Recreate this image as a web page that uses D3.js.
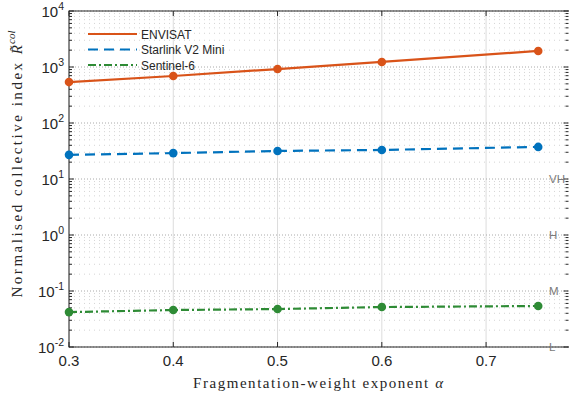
<!DOCTYPE html>
<html>
<head>
<meta charset="utf-8">
<script src="https://cdn.jsdelivr.net/npm/d3@7"></script>
<style>
body{margin:0;background:#fff;}
svg{display:block;}
</style>
</head>
<body>
<div id="chart"></div>
<script>
// データ
var alphas = [0.3, 0.4, 0.5, 0.6, 0.75];
var envisat = [538, 690, 920, 1230, 1935];
var starlink = [27, 29, 31.7, 33, 37.4];
var sentinel = [0.042, 0.0457, 0.0476, 0.0517, 0.054];
var seriesNames = ["ENVISAT", "Starlink V2 Mini", "Sentinel-6"];
var xTicks = [0.3, 0.4, 0.5, 0.6, 0.7];
var yExps = [-2, -1, 0, 1, 2, 3, 4];
var riskLabels = ["L", "M", "H", "VH"];
var riskLevels = [0.01, 0.1, 1, 10];

var W = 569, H = 396;
var m = {l: 69, r: -0.5, t: 11, b: 49};
var sans = "'Liberation Sans', Arial, sans-serif";
var serif = "'Liberation Serif', 'DejaVu Serif', serif";
var ink = "#262626";

var svg = d3.select("#chart").append("svg").attr("width", W).attr("height", H);

var x = d3.scaleLinear().domain([0.3, 0.78]).range([m.l, W - m.r]);
var y = d3.scaleLog().domain([0.01, 10000]).range([H - m.b, m.t]);

var g = svg.append("g");

// minor grid (log)
var minors = [];
for (var e = -2; e < 4; e++) for (var k = 2; k < 10; k++) minors.push(k * Math.pow(10, e));
g.selectAll(".ming").data(minors).enter().append("line")
  .attr("x1", m.l).attr("x2", W - m.r)
  .attr("y1", function(d){return y(d)}).attr("y2", function(d){return y(d)})
  .style("stroke", "#d4d4d4").style("stroke-width", 1).style("stroke-dasharray", "1,4");

// major grid
g.selectAll(".vg").data(xTicks).enter().append("line")
  .attr("x1", function(d){return x(d)}).attr("x2", function(d){return x(d)})
  .attr("y1", m.t).attr("y2", H - m.b)
  .style("stroke", "#dcdcdc").style("stroke-width", 1);
g.selectAll(".hg").data(yExps).enter().append("line")
  .attr("x1", m.l).attr("x2", W - m.r)
  .attr("y1", function(d){return y(Math.pow(10, d))}).attr("y2", function(d){return y(Math.pow(10, d))})
  .style("stroke", "#aaaaaa").style("stroke-width", 1).style("stroke-dasharray", "1,2");

// 軸
var ax = svg.append("g");
// box
ax.append("rect").attr("x", m.l).attr("y", m.t).attr("width", W - m.r - m.l).attr("height", H - m.b - m.t)
  .style("fill", "none").style("stroke", ink).style("stroke-width", 1);

// y ticks inside, left and right
[m.l, W - 0.5].forEach(function(x0, side){
  var dir = side == 0 ? 1 : -1;
  ax.selectAll(null).data(yExps).enter().append("line")
    .attr("x1", x0).attr("x2", x0 + dir * 5)
    .attr("y1", function(d){return y(Math.pow(10, d))}).attr("y2", function(d){return y(Math.pow(10, d))})
    .style("stroke", ink);
  ax.selectAll(null).data(minors).enter().append("line")
    .attr("x1", x0).attr("x2", x0 + dir * 3)
    .attr("y1", function(d){return y(d)}).attr("y2", function(d){return y(d)})
    .style("stroke", ink);
});
// x ticks inside, bottom and top
ax.selectAll(null).data(xTicks).enter().append("line")
  .attr("x1", function(d){return x(d)}).attr("x2", function(d){return x(d)})
  .attr("y1", H - m.b).attr("y2", H - m.b - 5).style("stroke", ink);
ax.selectAll(null).data(xTicks).enter().append("line")
  .attr("x1", function(d){return x(d)}).attr("x2", function(d){return x(d)})
  .attr("y1", m.t).attr("y2", m.t + 5).style("stroke", ink);

// tick labels
ax.selectAll(null).data(xTicks).enter().append("text")
  .attr("x", function(d){return x(d)}).attr("y", 366)
  .attr("text-anchor", "middle")
  .style("font-family", sans).style("font-size", "15px").style("fill", ink)
  .text(function(d){return d.toFixed(1)});

var yl = ax.selectAll(null).data(yExps).enter().append("text")
  .attr("x", 64).attr("y", function(d){return y(Math.pow(10, d)) + 6})
  .attr("text-anchor", "end")
  .style("font-family", sans).style("font-size", "15px").style("fill", ink);
yl.append("tspan").text("10");
yl.append("tspan").attr("dy", -7).style("font-size", "10.5px").text(function(d){return d});

// risk labels on the right
ax.selectAll(null).data(riskLevels).enter().append("text")
  .attr("x", 549).attr("y", function(d){return y(d) + 3.5})
  .style("font-family", sans).style("font-size", "11.5px").style("fill", "#7a7a7a")
  .text(function(d, i){return riskLabels[i]});

// axis labels (letter spacing of the main words fitted to the target width)
function fit(t, main, target){
  var w = t.node().getComputedTextLength();
  var n = main.text().length;
  main.style("letter-spacing", ((target - w) / n) + "px");
}
var xlab = svg.append("text").attr("x", 318).attr("y", 388).attr("text-anchor", "middle")
  .style("font-family", serif).style("font-size", "15px").style("fill", ink);
var xmain = xlab.append("tspan").text("Fragmentation-weight exponent ");
xlab.append("tspan").style("font-style", "italic").text("α");
fit(xlab, xmain, 250);

var ylab = svg.append("text").attr("transform", "translate(22,164) rotate(-90)").attr("text-anchor", "middle")
  .style("font-family", serif).style("font-size", "15px").style("fill", ink);
var ymain = ylab.append("tspan").text("Normalised collective index ");
ylab.append("tspan").style("font-style", "italic").text("R\u0303");
ylab.append("tspan").attr("dy", -7).attr("dx", 1).style("font-style", "italic").style("font-size", "11px").text("col");
fit(ylab, ymain, 266);

// series
var colors = ["#d95319", "#0072bd", "#2e8b35"];
var dashes = [null, "10,6", "8,3,2,3"];
var allSeries = [envisat, starlink, sentinel];
var line = d3.line().x(function(d){return x(d[0])}).y(function(d){return y(d[1])});

allSeries.forEach(function(vals, i){
  var pts = alphas.map(function(a, j){return [a, vals[j]]});
  svg.append("path").datum(pts).attr("d", line)
    .style("fill", "none").style("stroke", colors[i]).style("stroke-width", 2.2)
    .style("stroke-dasharray", dashes[i]);
  svg.selectAll(null).data(pts).enter().append("circle")
    .attr("cx", function(d){return x(d[0])}).attr("cy", function(d){return y(d[1])})
    .attr("r", 4.3).style("fill", colors[i]);
});

// legend
var lg = svg.append("g");
seriesNames.forEach(function(n, i){
  var yy = 34 + i * 15.5;
  lg.append("line").attr("x1", 88).attr("x2", 137).attr("y1", yy).attr("y2", yy)
    .style("stroke", colors[i]).style("stroke-width", 2.2).style("stroke-dasharray", dashes[i]);
  lg.append("text").attr("x", 141).attr("y", yy + 4.5)
    .style("font-family", sans).style("font-size", "12px").style("fill", ink)
    .text(n);
});
</script>
</body>
</html>
